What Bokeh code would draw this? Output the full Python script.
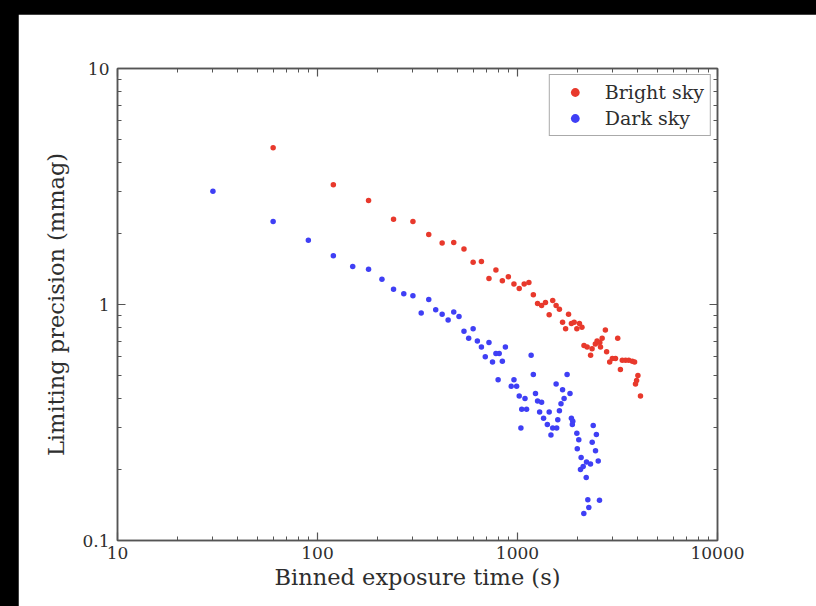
from bokeh.plotting import figure
from bokeh.models import LogAxis, FixedTicker, CustomJSTickFormatter, Legend, LegendItem, Spacer
from bokeh.layouts import column, row
from bokeh.embed import file_html
from bokeh.resources import INLINE

# ---------------- data ----------------
bright_t = [60, 120, 180, 240, 300, 360, 420, 480, 540, 600, 660, 720, 780, 840, 900,
            960, 1020, 1080, 1140, 1200, 1260, 1320, 1380, 1440, 1500, 1560, 1620, 1680,
            1740, 1800, 1860, 1920, 1980, 2040, 2100, 2150, 2230, 2320, 2360, 2450, 2500,
            2580, 2650, 2600, 2750, 2790, 2890, 2980, 3090, 3170, 3270, 3340, 3470, 3600,
            3750, 3850, 4000, 3940, 3890, 4120]
bright_p = [4.61, 3.22, 2.76, 2.30, 2.25, 1.98, 1.82, 1.83, 1.72, 1.51, 1.52, 1.29, 1.40,
            1.26, 1.31, 1.22, 1.17, 1.22, 1.24, 1.10, 1.01, 0.99, 1.02, 0.905, 1.04, 0.99,
            0.955, 0.84, 0.79, 0.91, 0.83, 0.84, 0.79, 0.83, 0.80, 0.67, 0.66, 0.61, 0.65,
            0.68, 0.70, 0.69, 0.72, 0.66, 0.78, 0.63, 0.57, 0.59, 0.59, 0.72, 0.53, 0.58,
            0.58, 0.58, 0.575, 0.57, 0.50, 0.476, 0.46, 0.41]

dark_t = [30, 60, 90, 120, 150, 180, 210, 240, 270, 300, 330, 360, 390, 420, 450, 480, 510,
          540, 570, 600, 630, 660, 690, 720, 750, 780, 800, 810, 840, 870, 930, 960, 990,
          1020, 1050, 1040, 1090, 1110, 1170, 1200, 1230, 1260, 1290, 1320, 1350, 1410,
          1440, 1470, 1500, 1560, 1570, 1590, 1620, 1650, 1680, 1710, 1770, 1830, 1860,
          1890, 1880, 1980, 1990, 2025, 2065, 2080, 2130, 2146, 2206, 2213, 2247, 2273,
          2317, 2363, 2391, 2455, 2480, 2533, 2570]
dark_p = [3.02, 2.25, 1.87, 1.61, 1.45, 1.41, 1.28, 1.16, 1.11, 1.09, 0.92, 1.05, 0.95,
          0.91, 0.86, 0.93, 0.89, 0.77, 0.72, 0.79, 0.70, 0.66, 0.60, 0.69, 0.57, 0.62,
          0.48, 0.62, 0.575, 0.66, 0.45, 0.48, 0.45, 0.41, 0.36, 0.30, 0.40, 0.36, 0.61,
          0.505, 0.42, 0.39, 0.35, 0.385, 0.33, 0.31, 0.35, 0.28, 0.30, 0.46, 0.30, 0.325,
          0.355, 0.38, 0.435, 0.40, 0.505, 0.42, 0.33, 0.32, 0.31, 0.285, 0.245, 0.267,
          0.20, 0.225, 0.206, 0.13, 0.185, 0.215, 0.149, 0.138, 0.211, 0.261, 0.307, 0.24,
          0.281, 0.217, 0.148]

x_ticks = [10, 100, 1000, 10000]
y_ticks = [0.1, 1, 10]
x_label = "Binned exposure time (s)"
y_label = "Limiting precision (mmag)"
series_names = ["Bright sky", "Dark sky"]

# ---------------- styling ----------------
FONT = "DejaVu Serif"
TXT = "#2e2e2e"
LINE = "#555555"
RED = "#e8392c"
BLUE = "#3f3ff5"


def minors(ticks):
    out = []
    for t in ticks[:-1]:
        out += [t * k for k in range(2, 10)]
    return out


p = figure(width=798, height=592, x_axis_type="log", y_axis_type="log",
           x_range=(10, 10000), y_range=(0.1, 10),
           output_backend="svg", toolbar_location=None,
           min_border_left=99, min_border_right=99, min_border_top=54, min_border_bottom=66,
           background_fill_color="white", border_fill_color="white")
p.margin = 0
p.xgrid.visible = False
p.ygrid.visible = False
p.outline_line_color = LINE
p.outline_line_width = 1.5

r_bright = p.scatter(bright_t, bright_p, size=5.5, color=RED, line_color=None)
r_dark = p.scatter(dark_t, dark_p, size=5.5, color=BLUE, line_color=None)

fmt = CustomJSTickFormatter(code="return tick.toString();")
blank = CustomJSTickFormatter(code="return '';")


def style_axis(ax, ticks, show_labels):
    ax.ticker = FixedTicker(ticks=ticks, minor_ticks=minors(ticks))
    ax.formatter = fmt if show_labels else blank
    ax.axis_line_color = LINE
    ax.axis_line_width = 1.5
    ax.major_tick_line_color = LINE
    ax.minor_tick_line_color = LINE
    ax.major_tick_line_width = 1.2
    ax.minor_tick_line_width = 1.0
    ax.major_tick_in = 8
    ax.major_tick_out = 0
    ax.minor_tick_in = 4
    ax.minor_tick_out = 0
    ax.major_label_text_font = FONT
    ax.major_label_text_font_size = "17px"
    ax.major_label_text_color = TXT
    ax.axis_label_text_font = FONT
    ax.axis_label_text_font_size = "22.5px"
    ax.axis_label_text_font_style = "normal"
    ax.axis_label_text_color = TXT


style_axis(p.xaxis[0], x_ticks, True)
style_axis(p.yaxis[0], y_ticks, True)
p.xaxis[0].axis_label = x_label
p.yaxis[0].axis_label = y_label
p.xaxis[0].major_label_standoff = 6
p.xaxis[0].axis_label_standoff = 2
p.yaxis[0].major_label_standoff = 8
p.yaxis[0].axis_label_standoff = 10

top_ax = LogAxis()
style_axis(top_ax, x_ticks, False)
p.add_layout(top_ax, "above")
right_ax = LogAxis()
style_axis(right_ax, y_ticks, False)
p.add_layout(right_ax, "right")

legend = Legend(items=[LegendItem(label=series_names[0], renderers=[r_bright]),
                       LegendItem(label=series_names[1], renderers=[r_dark])],
                location="top_right")
legend.margin = 6
legend.padding = 6
legend.spacing = 4
legend.glyph_width = 38
legend.glyph_height = 22
legend.label_height = 22
legend.label_standoff = 11
legend.label_text_font = FONT
legend.label_text_font_size = "19px"
legend.label_text_color = TXT
legend.border_line_color = LINE
legend.border_line_width = 1.5
legend.background_fill_color = "white"
legend.background_fill_alpha = 1.0
p.add_layout(legend)

top_band = Spacer(width=816, height=14, margin=0)
left_band = Spacer(width=18, height=592, margin=0)
body = row(left_band, p, width=816, height=592, margin=0, spacing=0,
           sizing_mode="fixed", styles={"background-color": "black"})
layout = column(top_band, body, width=816, height=606, margin=0, spacing=0,
                sizing_mode="fixed", styles={"background-color": "black"})

open("out.html", "w").write(file_html(layout, INLINE))
